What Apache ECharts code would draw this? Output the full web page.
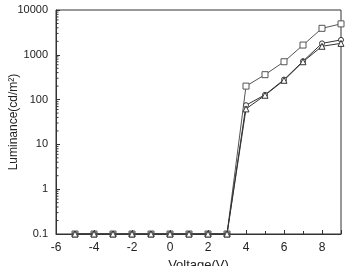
<!DOCTYPE html>
<html><head><meta charset="utf-8">
<script src="https://cdn.jsdelivr.net/npm/echarts@6/dist/echarts.min.js"></script>
<style>html,body{margin:0;padding:0;background:#fff}#c{width:349px;height:266px}</style>
</head><body><div id="c"></div>
<script>
const voltage = [-5,-4,-3,-2,-1,0,1,2,3,4,5,6,7,8,9];
const lumSquare = [0.1,0.1,0.1,0.1,0.1,0.1,0.1,0.1,0.1,200,360,700,1650,3900,4900];
const lumTriangle = [0.1,0.1,0.1,0.1,0.1,0.1,0.1,0.1,0.1,62,125,270,700,1550,1800];
const lumCircle = [0.1,0.1,0.1,0.1,0.1,0.1,0.1,0.1,0.1,75,128,280,720,1800,2150];
const xTicks = [-6,-4,-2,0,2,4,6,8];
const yTicks = [0.1,1,10,100,1000,10000];

const pair = arr => voltage.map((v,i)=>[v,arr[i]]);
const font = 'Liberation Sans';
const chart = echarts.init(document.getElementById('c'));
const mk = (name, data, symbol, color, size) => ({
  name, type:'line', data:pair(data), symbol, symbolSize:size, showSymbol:true,
  lineStyle:{color, width:1}, itemStyle:{color:'#fff', borderColor:color, borderWidth:1},
  animation:false
});
chart.setOption({
  animation:false,
  grid:{left:56, right:8, top:10, bottom:32, show:true, borderColor:'#333', borderWidth:1,
    containLabel:false, outerBoundsMode:'none'},
  xAxis:{type:'value', min:-6, max:9, interval:2,
    name:'Voltage(V)', nameLocation:'middle', nameGap:25, nameMoveOverlap:false,
    nameTextStyle:{fontFamily:font, fontSize:13, color:'#222'},
    axisLine:{onZero:false, lineStyle:{color:'#333'}},
    axisTick:{inside:true, length:4, lineStyle:{color:'#333'}},
    minorTick:{show:true, splitNumber:2, length:3, lineStyle:{color:'#333'}},
    splitLine:{show:false},
    axisLabel:{fontFamily:font, fontSize:12, color:'#222', margin:8, showMaxLabel:false,
      formatter:v=>xTicks.includes(v)?String(v):''}},
  yAxis:{type:'log', min:0.1, max:10000, logBase:10,
    name:'Luminance(cd/m²)', nameLocation:'middle', nameGap:36, nameMoveOverlap:false,
    nameTextStyle:{fontFamily:font, fontSize:12, color:'#222'},
    axisLine:{onZero:false, lineStyle:{color:'#333'}},
    axisTick:{inside:true, length:4, lineStyle:{color:'#333'}},
    splitLine:{show:false},
    axisLabel:{fontFamily:font, fontSize:11, color:'#222',
      formatter:v=>{const t=yTicks.find(y=>Math.abs(Math.log10(y)-Math.log10(v))<1e-6);return t===undefined?'':String(t);}}},
  series:[
    mk('square', lumSquare, 'rect', '#555', 6),
    mk('circle', lumCircle, 'circle', '#333', 5),
    mk('triangle', lumTriangle, 'triangle', '#333', 6)
  ]
});
// minor log ticks on y axis, positioned through the axis scale
const minor = [];
for (let d = 0; d < yTicks.length - 1; d++) {
  for (let k = 2; k <= 9; k++) {
    const v = yTicks[d] * k;
    const p = chart.convertToPixel({xAxisIndex:0, yAxisIndex:0}, [-6, v]);
    minor.push({type:'line', shape:{x1:p[0], y1:p[1], x2:p[0]+2.5, y2:p[1]},
      style:{stroke:'#333', lineWidth:1}, silent:true});
  }
}
chart.setOption({graphic:minor});
</script></body></html>
